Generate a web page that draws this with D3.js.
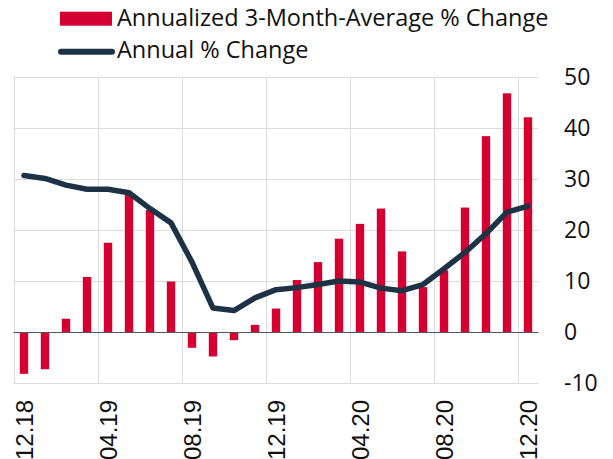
<!doctype html>
<html>
  <head>
    <script src="https://d3js.org/d3.v7.min.js"></script>
    <style>
      body { margin: 0; background: #fff; }
    </style>
  </head>
  <body>
    <script>
    // months 12.18 .. 12.20
    var months = ["12.18","01.19","02.19","03.19","04.19","05.19","06.19","07.19","08.19","09.19","10.19","11.19",
                  "12.19","01.20","02.20","03.20","04.20","05.20","06.20","07.20","08.20","09.20","10.20","11.20","12.20"];
    var threeMonth = [-8.2, -7.3, 2.6, 10.8, 17.5, 27.1, 23.9, 9.9, -3.1, -4.8, -1.6, 1.4,
                      4.6, 10.2, 13.7, 18.3, 21.2, 24.2, 15.8, 8.8, 12.1, 24.4, 38.4, 46.8, 42.1];
    var annual = [30.7, 30.1, 28.8, 28.0, 28.0, 27.3, 24.2, 21.4, 13.7, 4.7, 4.2, 6.7,
                  8.3, 8.7, 9.3, 10.0, 9.8, 8.6, 8.1, 9.3, 12.4, 15.6, 19.3, 23.5, 24.7];
    var xTickLabels = ["12.18","04.19","08.19","12.19","04.20","08.20","12.20"];
    var yTicks = [-10, 0, 10, 20, 30, 40, 50];

    var width = 613;
    var height = 459;

    var red = "#d50032";
    var navy = "#1e3246";
    var grid = "#dcdcdc";

    var svg = d3.select("body")
              .append("svg")
              .attr("width", width)
              .attr("height", height);

    var x = d3.scaleBand()
              .domain(months)
              .range([13.5, 538.5])
              .paddingInner(0.6)
              .paddingOuter(0.3);

    var y = d3.scaleLinear()
              .domain([-10, 50])
              .range([383, 77]);

    // horizontal grid
    svg.append("g")
      .selectAll("line")
      .data(yTicks)
      .enter()
      .append("line")
        .attr("x1", 13.5)
        .attr("x2", 538.5)
        .attr("y1", function(d) { return Math.round(y(d)) + 0.5; })
        .attr("y2", function(d) { return Math.round(y(d)) + 0.5; })
        .attr("stroke", grid)
        .attr("stroke-width", 1);

    // vertical grid at band starts of labelled months
    var step = x.step();
    svg.append("g")
      .selectAll("line")
      .data(xTickLabels)
      .enter()
      .append("line")
        .attr("x1", function(d) { return Math.round(x(d) + x.bandwidth() / 2 - step / 2) + 0.5; })
        .attr("x2", function(d) { return Math.round(x(d) + x.bandwidth() / 2 - step / 2) + 0.5; })
        .attr("y1", y(50))
        .attr("y2", y(-10))
        .attr("stroke", grid)
        .attr("stroke-width", 1);

    // bars
    svg.append("g")
      .selectAll("rect")
      .data(threeMonth)
      .enter()
      .append("rect")
        .attr("x", function(d, i) { return x(months[i]); })
        .attr("width", x.bandwidth())
        .attr("y", function(d) { return y(Math.max(0, d)); })
        .attr("height", function(d) { return Math.abs(y(d) - y(0)); })
        .attr("fill", red);

    // zero line
    svg.append("line")
      .attr("x1", 13.5)
      .attr("x2", 538.5)
      .attr("y1", Math.round(y(0)) + 0.5)
      .attr("y2", Math.round(y(0)) + 0.5)
      .attr("stroke", "#555")
      .attr("stroke-width", 1);

    var line = d3.line()
      .x(function(d, i) { return x(months[i]) + x.bandwidth() / 2; })
      .y(function(d) { return y(d); });

    svg.append("path")
      .datum(annual)
      .attr("fill", "none")
      .attr("stroke", navy)
      .attr("stroke-width", 5.5)
      .attr("stroke-linejoin", "round")
      .attr("stroke-linecap", "round")
      .attr("d", line);

    // y axis labels on the right
    svg.append("g")
      .selectAll("text")
      .data(yTicks)
      .enter()
      .append("text")
        .attr("x", 564)
        .attr("y", function(d) { return y(d); })
        .attr("dy", "0.36em")
        .attr("font-family", "Open Sans")
        .attr("font-size", "23px")
        .attr("fill", "#111")
        .text(function(d) { return d; });

    // x labels, rotated
    svg.append("g")
      .selectAll("text")
      .data(xTickLabels)
      .enter()
      .append("text")
        .attr("transform", function(d) {
          return "translate(" + (x(d) + x.bandwidth() / 2 + 8.5) + ",400) rotate(-90)";
        })
        .attr("text-anchor", "end")
        .attr("font-family", "Liberation Sans")
        .attr("font-size", "24px")
        .attr("fill", "#111")
        .text(function(d) { return d; });

    // legend
    var legend = svg.append("g");
    legend.append("rect")
      .attr("x", 60)
      .attr("y", 11.7)
      .attr("width", 52)
      .attr("height", 14)
      .attr("fill", red);
    legend.append("text")
      .attr("x", 117)
      .attr("y", 26)
      .attr("font-family", "Open Sans")
      .attr("font-size", "23.5px")
      .attr("fill", "#111")
      .text("Annualized 3-Month-Average % Change");
    legend.append("line")
      .attr("x1", 61)
      .attr("x2", 112)
      .attr("y1", 51.7)
      .attr("y2", 51.7)
      .attr("stroke", navy)
      .attr("stroke-width", 6)
      .attr("stroke-linecap", "round");
    legend.append("text")
      .attr("x", 117)
      .attr("y", 58)
      .attr("font-family", "Open Sans")
      .attr("font-size", "23.5px")
      .attr("fill", "#111")
      .text("Annual % Change");
    </script>
  </body>
</html>
